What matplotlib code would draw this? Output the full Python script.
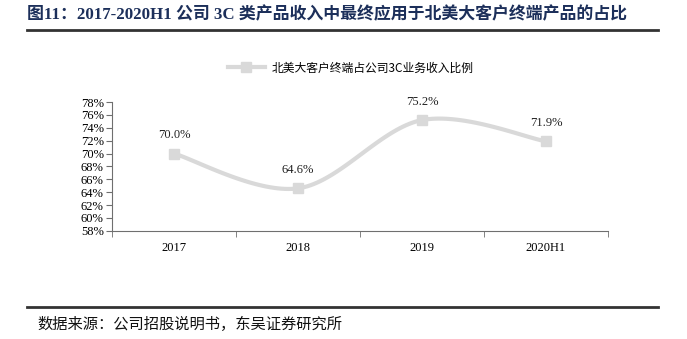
import numpy as np
import matplotlib.pyplot as plt
from matplotlib.lines import Line2D

plt.rcParams['font.family'] = ['Liberation Serif', 'Noto Sans CJK SC']

categories = ['2017', '2018', '2019', '2020H1']
share = [70.0, 64.6, 75.2, 71.9]
data_labels = ['70.0%', '64.6%', '75.2%', '71.9%']
y_ticks = list(range(58, 80, 2))

title_text = '图11：2017-2020H1 公司 3C 类产品收入中最终应用于北美大客户终端产品的占比'
legend_text = '北美大客户终端占公司3C业务收入比例'
source_text = '数据来源：公司招股说明书，东吴证券研究所'

LINE_COLOR = '#d9d9d9'


def smooth_curve(xs, ys, n=40):
    # Catmull-Rom style smoothing like Excel's smoothed line
    pts = np.column_stack([xs, ys]).astype(float)
    pts = np.vstack([pts[0], pts, pts[-1]])
    out = []
    t = np.linspace(0, 1, n)
    for i in range(1, len(pts) - 2):
        p0, p1, p2, p3 = pts[i - 1], pts[i], pts[i + 1], pts[i + 2]
        c1 = p1 + (p2 - p0) / 6
        c2 = p2 - (p3 - p1) / 6
        seg = ((1 - t) ** 3)[:, None] * p1 + (3 * (1 - t) ** 2 * t)[:, None] * c1 \
            + (3 * (1 - t) * t ** 2)[:, None] * c2 + (t ** 3)[:, None] * p2
        out.append(seg)
    out = np.vstack(out)
    return out[:, 0], out[:, 1]


fig = plt.figure(figsize=(6.87, 3.39), dpi=100)
ax = fig.add_axes([0.163, 0.319, 0.722, 0.380])

x = np.arange(len(categories))
cx, cy = smooth_curve(x, share)
ax.plot(cx, cy, color=LINE_COLOR, linewidth=3, solid_capstyle='round', zorder=2)
ax.plot(x, share, linestyle='none', marker='s', markersize=7.5,
        color=LINE_COLOR, zorder=3)

for xi, yi, lab in zip(x, share, data_labels):
    ax.annotate(lab, (xi, yi), xytext=(0, 9), textcoords='offset points',
                ha='center', va='bottom', fontsize=9, color='#222222')

ax.set_xlim(-0.5, len(categories) - 0.5)
ax.set_ylim(58, 78)
ax.set_yticks(y_ticks)
ax.set_yticklabels([f'{v}%' for v in y_ticks], fontsize=9)
ax.set_xticks(x)
ax.set_xticklabels(categories, fontsize=9)
ax.set_xticks(np.arange(-0.5, len(categories), 1), minor=True)
ax.tick_params(axis='x', which='major', length=0, pad=8)
ax.tick_params(axis='x', which='minor', length=4, color='#6f6f6f', direction='out')
ax.tick_params(axis='y', length=4, color='#6f6f6f', direction='out', pad=2)

for side in ['top', 'right']:
    ax.spines[side].set_visible(False)
for side in ['left', 'bottom']:
    ax.spines[side].set_color('#6f6f6f')
    ax.spines[side].set_linewidth(0.8)

handle = Line2D([], [], color=LINE_COLOR, linewidth=3, marker='s',
                markersize=7.5)
fig.legend([handle], [legend_text], loc='center', bbox_to_anchor=(0.51, 0.80),
           frameon=False, prop={'family': ['Noto Sans CJK SC'], 'size': 8.5},
           handlelength=3.2, handletextpad=0.5)

fig.text(0.040, 0.955, title_text, fontsize=12.2, fontweight='bold',
         color='#1c2f5a', va='center', ha='left')
fig.add_artist(Line2D([0.039, 0.958], [0.912, 0.912], color='#333333',
                      linewidth=2, transform=fig.transFigure))
fig.add_artist(Line2D([0.039, 0.958], [0.094, 0.094], color='#333333',
                      linewidth=2, transform=fig.transFigure))
fig.text(0.054, 0.044, source_text, fontsize=11, color='#111111',
         va='center', ha='left', family=['Noto Sans CJK SC'])

fig.savefig('out.png', dpi=100)
